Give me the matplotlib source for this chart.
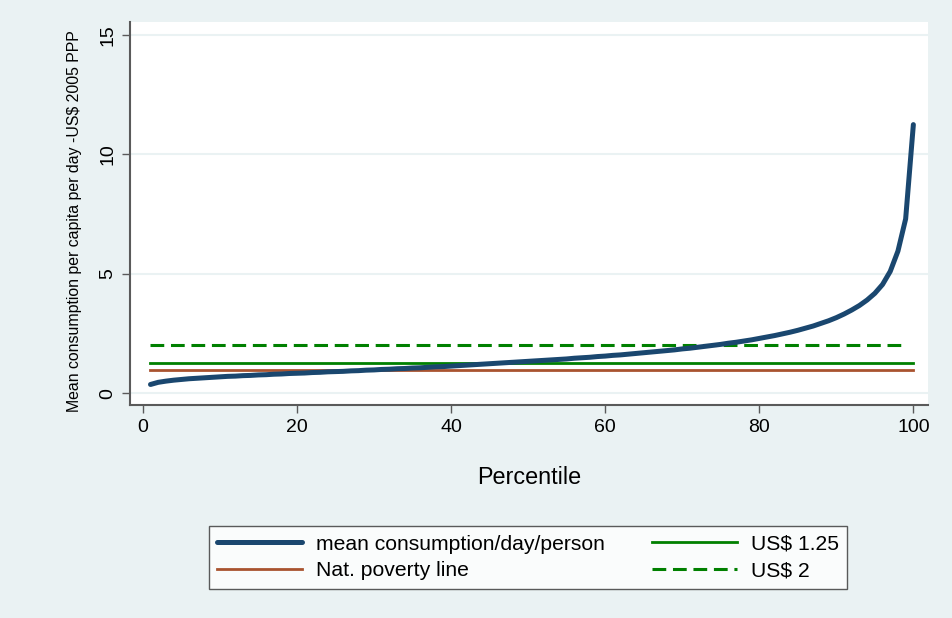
import numpy as np
import matplotlib
matplotlib.use("Agg")
import matplotlib.pyplot as plt

# percentile 1..100 and mean consumption
percentile = np.arange(1, 101)
mean_consumption = [
    0.36, 0.45, 0.50, 0.54, 0.57, 0.60, 0.62, 0.64, 0.66, 0.68,
    0.70, 0.71, 0.73, 0.74, 0.76, 0.77, 0.79, 0.80, 0.82, 0.83,
    0.84, 0.86, 0.87, 0.89, 0.90, 0.91, 0.93, 0.94, 0.96, 0.97,
    0.99, 1.00, 1.02, 1.03, 1.05, 1.06, 1.08, 1.10, 1.11, 1.13,
    1.15, 1.17, 1.19, 1.21, 1.23, 1.25, 1.27, 1.29, 1.31, 1.33,
    1.35, 1.37, 1.39, 1.41, 1.43, 1.46, 1.48, 1.50, 1.53, 1.55,
    1.58, 1.60, 1.63, 1.66, 1.69, 1.72, 1.75, 1.78, 1.81, 1.85,
    1.88, 1.92, 1.96, 2.00, 2.04, 2.09, 2.13, 2.18, 2.23, 2.29,
    2.35, 2.41, 2.48, 2.55, 2.63, 2.72, 2.81, 2.92, 3.03, 3.16,
    3.31, 3.48, 3.67, 3.90, 4.18, 4.55, 5.10, 5.95, 7.30, 11.25,
]
nat_poverty_line = 0.97
us_125 = 1.25
us_2 = 2.0

yticks = [0, 5, 10, 15]
xticks = [0, 20, 40, 60, 80, 100]

bg = "#EAF2F3"
navy = "#1A476F"
brown = "#A9532F"
green = "#008000"
axis_col = "#5A5A5A"

plt.rcParams["font.family"] = ["Liberation Sans", "DejaVu Sans"]

fig = plt.figure(figsize=(9.53, 6.18), dpi=100, facecolor=bg)
ax = fig.add_axes([130 / 953, 1 - 405 / 618, (928 - 130) / 953, (405 - 22) / 618])
ax.set_facecolor("white")

for y in yticks:
    ax.axhline(y, color=bg, lw=1.5, zorder=0)

ax.plot(percentile, mean_consumption, color=navy, lw=3.6,
        solid_capstyle="round", label="mean consumption/day/person", zorder=4)
ax.plot(percentile, [nat_poverty_line] * len(percentile), color=brown, lw=2,
        label="Nat. poverty line", zorder=3)
ax.plot(percentile, [us_125] * len(percentile), color=green, lw=2,
        label="US$ 1.25", zorder=3)
ax.plot(percentile[:-1], [us_2] * (len(percentile) - 1), color=green, lw=2.2,
        dashes=(4.5, 2.2), label="US$ 2", zorder=3)

ax.set_xlim(-1.66, 101.9)
ax.set_ylim(-0.5, 15.55)
ax.set_xticks(xticks)
ax.set_yticks(yticks)
ax.tick_params(axis="both", direction="out", length=6, width=1, color=axis_col,
               labelsize=14, pad=4)
for lab in ax.get_yticklabels():
    lab.set_rotation(90)
    lab.set_va("center")

for s in ["top", "right"]:
    ax.spines[s].set_visible(False)
for s in ["left", "bottom"]:
    ax.spines[s].set_color(axis_col)
    ax.spines[s].set_linewidth(1.5)

ax.set_xlabel("Percentile", fontsize=16.8, labelpad=22)
ax.set_ylabel("Mean consumption per capita per day -US$ 2005 PPP", fontsize=11.4)
# stata centres the title a bit lower than the plot region
ax.yaxis.set_label_coords(-0.060, 0.48)

handles, labels = ax.get_legend_handles_labels()
leg = fig.legend(handles, labels, ncol=2, loc="center",
                 bbox_to_anchor=(528 / 953, 1 - 557.5 / 618),
                 fontsize=15.2, frameon=True, fancybox=False,
                 handlelength=4.0, columnspacing=2.27, handletextpad=0.66,
                 borderpad=0.4, labelspacing=0.35)
leg.get_frame().set_edgecolor("#333333")
leg.get_frame().set_linewidth(1.0)

fig.savefig("out.png", dpi=100, facecolor=bg)
